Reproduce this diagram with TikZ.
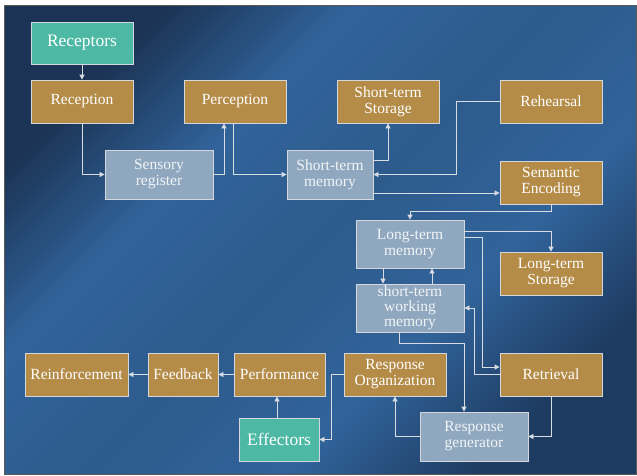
\documentclass[tikz,border=0pt]{standalone}
\usepackage{fontspec}
\setmainfont{Liberation Serif}
\usetikzlibrary{arrows.meta,calc}
\definecolor{bgA}{HTML}{1B3354}
\definecolor{bgB}{HTML}{31639A}
\definecolor{bgM}{HTML}{2D5B8C}
\definecolor{bgC}{HTML}{1E3C62}
\definecolor{gold}{HTML}{B48C48}
\definecolor{teal}{HTML}{4DB8A4}
\definecolor{greyblue}{HTML}{8FA7BF}
\definecolor{edge}{HTML}{D4D8DE}
\definecolor{lineC}{HTML}{D8DDE4}
\pgfdeclarehorizontalshading{bgsh}{100bp}{color(0bp)=(bgA); color(25bp)=(bgA); color(37bp)=(bgB); color(50bp)=(bgM); color(63bp)=(bgB); color(75bp)=(bgC); color(100bp)=(bgC)}
\tikzset{
  box/.style={draw=edge, line width=0.8pt, inner sep=0pt, align=center, font=\fontsize{15.5}{16}\selectfont},
  goldbox/.style={box, fill=gold, text=white},
  tealbox/.style={box, fill=teal, text=white, font=\fontsize{17.5}{18}\selectfont},
  greybox/.style={box, fill=greyblue, text=white!88!greyblue},
  arr/.style={draw=lineC, line width=0.8pt, -{Triangle[length=5pt,width=5pt]}},
}
\begin{document}
\begin{tikzpicture}[x=1pt,y=-1pt]
\fill[white] (0,0) rectangle (637,475);
\useasboundingbox (0,0) rectangle (637,475);
\shade[shading=bgsh, shading angle=-45] (4,5) rectangle (636,474);
\draw[gray!70!black, line width=0.8pt] (4,5) rectangle (636,474);
% nodes
\node[tealbox, minimum width=102pt, minimum height=42pt] (receptors) at (82,43) {Receptors};
\node[goldbox, minimum width=102pt, minimum height=43pt] (reception) at (82,101.5) {Reception};
\node[goldbox, minimum width=102pt, minimum height=43pt] (perception) at (235,101.5) {Perception};
\node[greybox, minimum width=108pt, minimum height=49pt] (sensory) at (159,174.5) {Sensory\\register};
\node[greybox, minimum width=86pt, minimum height=49pt] (stm) at (330,174.5) {Short-term\\memory};
\node[goldbox, minimum width=102pt, minimum height=43pt] (ststorage) at (388,101.5) {Short-term\\Storage};
\node[goldbox, minimum width=102pt, minimum height=43pt] (rehearsal) at (551,101.5) {Rehearsal};
\node[goldbox, minimum width=102pt, minimum height=43pt] (semantic) at (551,182.5) {Semantic\\Encoding};
\node[greybox, minimum width=108pt, minimum height=48pt] (ltm) at (410,244) {Long-term\\memory};
\node[goldbox, minimum width=102pt, minimum height=43pt] (ltstorage) at (551,273.5) {Long-term\\Storage};
\node[greybox, minimum width=108pt, minimum height=48pt, font=\fontsize{15.5}{15}\selectfont] (stwm) at (410,308) {short-term\\working\\memory};
\node[goldbox, minimum width=102pt, minimum height=43pt] (retrieval) at (551,374.5) {Retrieval};
\node[goldbox, minimum width=102pt, minimum height=43pt] (resporg) at (395,374.5) {Response\\Organization};
\node[greybox, minimum width=108pt, minimum height=49pt] (respgen) at (474,436.5) {Response\\generator};
\node[tealbox, minimum width=80pt, minimum height=43pt] (effectors) at (279,439.5) {Effectors};
\node[goldbox, minimum width=91pt, minimum height=43pt] (performance) at (279.5,374.5) {Performance};
\node[goldbox, minimum width=70pt, minimum height=43pt] (feedback) at (183,374.5) {Feedback};
\node[goldbox, minimum width=103pt, minimum height=43pt] (reinforcement) at (76.5,374.5) {Reinforcement};
% connectors
\draw[arr] (receptors.south) -- (reception.north);
\draw[arr] (reception.south) |- (sensory.west);
\draw[arr] (sensory.east) -| ([xshift=-11pt]perception.south);
\draw[arr] ([xshift=-2pt]perception.south) |- (stm.west);
\draw[arr] ([yshift=14.5pt]stm.east) -| (ststorage.south);
\draw[arr] (rehearsal.west) -- ([xshift=-43pt]rehearsal.west) |- (stm.east);
\coordinate (p7) at ([yshift=-18.5pt]stm.east);
\draw[arr] (p7) -- (p7 -| semantic.west);
\draw[arr] (semantic.south) -- ++(0,7) -| (ltm.north);
\coordinate (p9) at ([yshift=13pt]ltm.east);
\draw[arr] (p9) -| (ltstorage.north);
\coordinate (p10) at ([yshift=7pt]ltm.east);
\coordinate (p10b) at ([yshift=7.5pt]retrieval.west);
\draw[arr] (p10) -- ++(18,0) |- (p10b);
\draw[arr] (retrieval.west) -- ++(-25,0) |- (stwm.east);
\draw[arr] ([xshift=-27pt]ltm.south) -- ([xshift=-27pt]stwm.north);
\draw[arr] ([xshift=22pt]stwm.north) -- ([xshift=22pt]ltm.south);
\coordinate (p14) at ([xshift=-10pt]respgen.north);
\draw[arr] ([xshift=-11pt]stwm.south) -- ++(0,11) -| (p14);
\draw[arr] (retrieval.south) |- (respgen.east);
\draw[arr] (respgen.west) -| (resporg.south);
\draw[arr] (resporg.west) -- ++(-12,0) |- (effectors.east);
\draw[arr] ([xshift=-2pt]effectors.north) -- ([xshift=-2.5pt]performance.south);
\draw[arr] (performance.west) -- (feedback.east);
\draw[arr] (feedback.west) -- (reinforcement.east);
\end{tikzpicture}
\end{document}
